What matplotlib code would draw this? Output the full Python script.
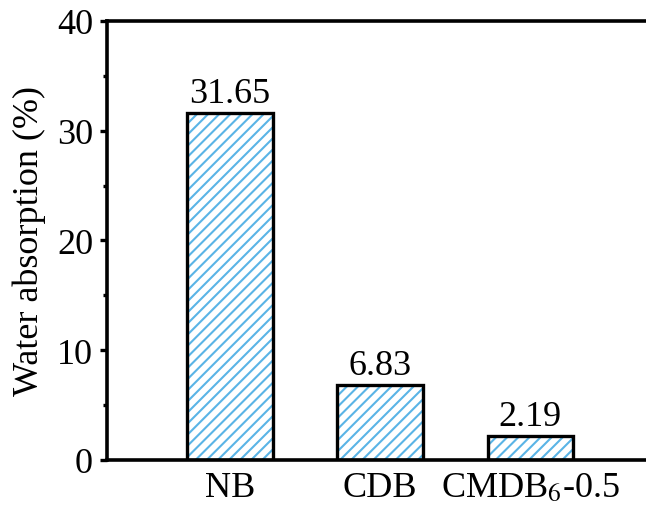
import matplotlib.pyplot as plt
import numpy as np

# water absorption of the three boards
samples = ["NB", "CDB", "CMDB$_6$-0.5"]
absorption = [31.65, 6.83, 2.19]
value_labels = ["31.65", "6.83", "2.19"]

plt.rcParams['font.family'] = ['Liberation Serif', 'DejaVu Serif']
plt.rcParams['mathtext.fontset'] = 'stix'
plt.rcParams['hatch.linewidth'] = 1.5

fig = plt.figure(figsize=(6.46, 5.10), dpi=100)
ax = fig.add_axes([0.1656, 0.0961, 0.8344, 0.8608])

x = np.arange(len(samples))
# blue hatch underneath, black outline on top
ax.bar(x, absorption, width=0.57, facecolor='white', edgecolor='#5ab4e6',
       linewidth=0, hatch='///')
ax.bar(x, absorption, width=0.57, fill=False, edgecolor='black', linewidth=2.4)

for xi, v, lab in zip(x, absorption, value_labels):
    ax.annotate(lab, (xi, v), xytext=(0, 2), textcoords='offset points',
                ha='center', va='bottom', fontsize=26)

ax.set_xlim(-0.82, 2.77)
ax.set_ylim(0, 40)
ax.set_yticks([0, 10, 20, 30, 40])
ax.set_yticks([5, 15, 25, 35], minor=True)
ax.set_xticks(x)
ax.set_xticklabels(samples)
ax.set_ylabel("Water absorption (%)", fontsize=26, labelpad=8)

ax.tick_params(axis='y', which='major', direction='out', length=5, width=2.4,
               labelsize=26, pad=5)
ax.tick_params(axis='y', which='minor', direction='out', length=3, width=2.4)
ax.tick_params(axis='x', length=0, labelsize=26, pad=8)

for s in ['left', 'top', 'bottom']:
    ax.spines[s].set_linewidth(2.6)
ax.spines['right'].set_visible(False)

fig.savefig("out.png", dpi=100)
